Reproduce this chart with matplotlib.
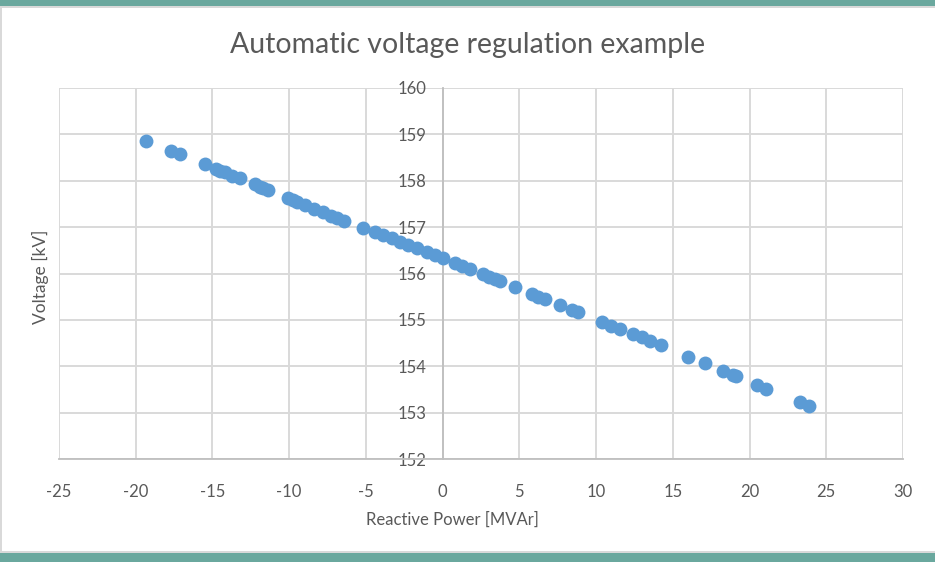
import matplotlib
matplotlib.use("Agg")
import matplotlib.pyplot as plt
from matplotlib.patches import Rectangle

# reactive power [MVAr] and voltage [kV]
q_mvar = [-19.3, -17.7, -17.1, -15.5, -14.8, -14.5, -14.2, -13.7, -13.2,
          -12.2, -11.9, -11.7, -11.4, -10.1, -9.75, -9.5, -8.96, -8.4, -7.8,
          -7.3, -6.9, -6.4, -5.2, -4.4, -3.9, -3.3, -2.8, -2.25, -1.7, -1.0,
          -0.5, 0.0, 0.8, 1.25, 1.8, 2.6, 3.0, 3.4, 3.75, 4.7, 5.8, 6.2, 6.7,
          7.65, 8.4, 8.8, 10.4, 11.0, 11.55, 12.4, 13.0, 13.5, 14.2, 16.0,
          17.1, 18.3, 18.9, 19.1, 20.5, 21.1, 23.3, 23.9]
v_kv = [158.86, 158.65, 158.57, 158.36, 158.26, 158.22, 158.18, 158.11, 158.05,
        157.92, 157.87, 157.84, 157.8, 157.63, 157.58, 157.54, 157.47, 157.4, 157.32,
        157.25, 157.2, 157.13, 156.98, 156.89, 156.83, 156.76, 156.69, 156.62, 156.55, 156.47,
        156.4, 156.33, 156.22, 156.16, 156.09, 155.98, 155.93, 155.88, 155.84, 155.7, 155.56, 155.5, 155.44,
        155.31, 155.21, 155.16, 154.96, 154.87, 154.8, 154.69, 154.62, 154.55, 154.46, 154.2,
        154.06, 153.9, 153.82, 153.79, 153.6, 153.52, 153.22, 153.14]

x_ticks = list(range(-25, 31, 5))
y_ticks = list(range(152, 161))

plt.rcParams["font.family"] = ["Lato", "DejaVu Sans"]
plt.rcParams["axes.unicode_minus"] = False
grey_txt = "#595959"

fig = plt.figure(figsize=(9.35, 5.62), dpi=100)
W, H = 935, 562

# frame decoration: teal bands top and bottom, thin grey edge on the left
fig.patches.append(Rectangle((0, 1 - 6 / H), 1, 6 / H, transform=fig.transFigure,
                             fc="#6aa89e", ec="none", zorder=0))
fig.patches.append(Rectangle((0, 1 - 8 / H), 1, 2 / H, transform=fig.transFigure,
                             fc="#d9d9d9", ec="none", zorder=0))
fig.patches.append(Rectangle((0, 0), 1, 9 / H, transform=fig.transFigure,
                             fc="#6aa89e", ec="none", zorder=0))
fig.patches.append(Rectangle((0, 9 / H), 1, 2 / H, transform=fig.transFigure,
                             fc="#d9d9d9", ec="none", zorder=0))
fig.patches.append(Rectangle((0, 11 / H), 2 / W, 1 - 19 / H, transform=fig.transFigure,
                             fc="#d9d9d9", ec="none", zorder=0))

ax = fig.add_axes([59 / W, (H - 459) / H, 844 / W, 371 / H])
ax.scatter(q_mvar, v_kv, s=100, color="#5b9bd5", zorder=3, linewidths=0)

ax.set_xlim(-25, 30)
ax.set_ylim(152, 160)
ax.set_xticks(x_ticks)
ax.set_yticks(y_ticks)
ax.grid(True, color="#d9d9d9", lw=1.4, zorder=0)
ax.set_axisbelow(True)

for s in ("top", "right"):
    ax.spines[s].set_visible(False)
ax.spines["left"].set_position(("data", 0))
ax.spines["left"].set_color("#bfbfbf")
ax.spines["left"].set_linewidth(1.3)
ax.spines["bottom"].set_color("#bfbfbf")
ax.spines["bottom"].set_linewidth(1.3)
ax.tick_params(axis="both", length=0, labelsize=12, labelcolor=grey_txt)
ax.tick_params(axis="x", pad=18)
ax.tick_params(axis="y", pad=12)

fig.text(468 / W, 1 - 45 / H, "Automatic voltage regulation example",
         ha="center", va="center", fontsize=20.5, color=grey_txt)
fig.text(452 / W, 1 - 520 / H, "Reactive Power [MVAr]",
         ha="center", va="center", fontsize=12, color=grey_txt)
fig.text(40 / W, 1 - 277 / H, "Voltage [kV]", rotation=90,
         ha="center", va="center", fontsize=12.5, color=grey_txt)

fig.savefig("out.png", dpi=100)
